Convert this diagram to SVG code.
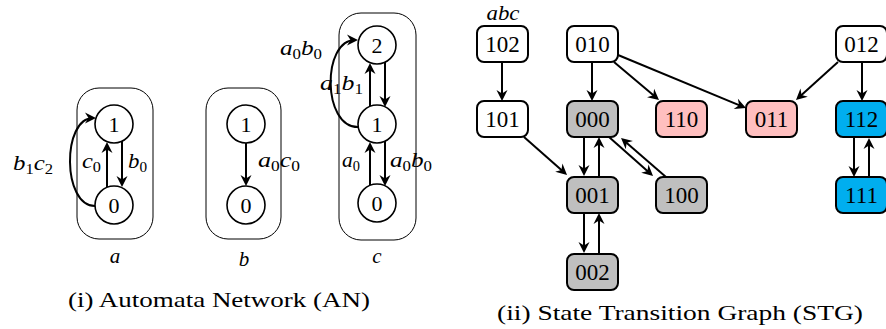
<svg xmlns="http://www.w3.org/2000/svg" width="886" height="329" viewBox="0 0 886 329" font-family="'Liberation Serif', 'DejaVu Serif', 'Noto Serif', 'Times New Roman', serif">
<defs>
<marker id="ah" markerUnits="userSpaceOnUse" viewBox="-12 -7 14 14" markerWidth="14" markerHeight="14" refX="-3" refY="0" orient="auto">
<path d="M0,0 L-11,-5.5 L-7.5,0 L-11,5.5 Z" fill="#000"/>
</marker>
</defs>
<style>
text{fill:#000}
.st rect{stroke:#000;stroke-width:2}
.st text{font-size:23px;text-anchor:middle}
.w{fill:#fff}.g{fill:#bfbfbf}.p{fill:#ffbfbf}.c{fill:#00aeef}
.frame{fill:none;stroke:#000;stroke-width:1}
.an circle{fill:#fff;stroke:#000;stroke-width:1.6}
.an text{font-size:22px;text-anchor:middle}
.e path{fill:none;stroke:#000;stroke-width:2;marker-end:url(#ah)}
.lb{font-size:21px;font-style:italic}
.lb tspan.s{font-size:14px;font-style:normal}
.cap{font-size:22px}
.nm{font-size:21px;font-style:italic;text-anchor:middle}
</style>

<g id="auto-a">
<rect class="frame" x="77" y="88" width="76" height="151" rx="22"/>
<text class="nm" x="115" y="263">a</text>
</g>
<g id="auto-b">
<rect class="frame" x="206" y="88" width="75" height="151" rx="22"/>
<text class="nm" x="244" y="266">b</text>
</g>
<g id="auto-c">
<rect class="frame" x="339" y="13" width="77" height="227" rx="22"/>
<text class="nm" x="377" y="263">c</text>
</g>

<g id="a1" class="an"><circle cx="114" cy="124" r="19"/><text x="114" y="131.5">1</text></g>
<g id="a0" class="an"><circle cx="114" cy="205" r="19"/><text x="114" y="212.5">0</text></g>
<g id="b1" class="an"><circle cx="246" cy="124" r="19"/><text x="246" y="131.5">1</text></g>
<g id="b0" class="an"><circle cx="246" cy="205" r="19"/><text x="246" y="212.5">0</text></g>
<g id="c2" class="an"><circle cx="377" cy="45" r="19"/><text x="377" y="52.5">2</text></g>
<g id="c1" class="an"><circle cx="377" cy="124" r="19"/><text x="377" y="131.5">1</text></g>
<g id="c0" class="an"><circle cx="377" cy="203" r="19"/><text x="377" y="210.5">0</text></g>

<g id="n102" class="st"><rect class="w" x="477" y="26" width="51" height="36" rx="7"/><text x="502.5" y="52">102</text></g>
<g id="n010" class="st"><rect class="w" x="567" y="26" width="51" height="36" rx="7"/><text x="592.5" y="52">010</text></g>
<g id="n012" class="st"><rect class="w" x="836" y="26" width="51" height="36" rx="7"/><text x="861.5" y="52">012</text></g>
<g id="n101" class="st"><rect class="w" x="477" y="101" width="51" height="36" rx="7"/><text x="502.5" y="127">101</text></g>
<g id="n000" class="st"><rect class="g" x="567" y="101" width="51" height="36" rx="7"/><text x="592.5" y="127">000</text></g>
<g id="n110" class="st"><rect class="p" x="656" y="101" width="51" height="36" rx="7"/><text x="681.5" y="127">110</text></g>
<g id="n011" class="st"><rect class="p" x="746" y="101" width="51" height="36" rx="7"/><text x="771.5" y="127">011</text></g>
<g id="n112" class="st"><rect class="c" x="836" y="101" width="51" height="36" rx="7"/><text x="861.5" y="127">112</text></g>
<g id="n001" class="st"><rect class="g" x="567" y="177" width="51" height="36" rx="7"/><text x="592.5" y="203">001</text></g>
<g id="n100" class="st"><rect class="g" x="656" y="177" width="51" height="36" rx="7"/><text x="681.5" y="203">100</text></g>
<g id="n111" class="st"><rect class="c" x="836" y="177" width="51" height="36" rx="7"/><text x="861.5" y="203">111</text></g>
<g id="n002" class="st"><rect class="g" x="567" y="254" width="51" height="36" rx="7"/><text x="592.5" y="280">002</text></g>

<g id="connectors" class="e">
<path d="M107,187 L107,145"/>
<path d="M122,141 L122,184"/>
<path d="M95,206 C62,206 62,118 93,118"/>
<path d="M246,143 L246,183"/>
<path d="M385,62 L385,104"/>
<path d="M370,106 L370,66"/>
<path d="M385,141 L385,183"/>
<path d="M370,185 L370,145"/>
<path d="M358,127 C322,127 322,40 355,40"/>
<path d="M502,62 L502,98"/>
<path d="M592,62 L592,98"/>
<path d="M614,62 L656.7,98.1"/>
<path d="M618,55 L743.2,106.9"/>
<path d="M838,62 L798.2,98"/>
<path d="M862,62 L862,98"/>
<path d="M854,137 L854,174"/>
<path d="M869,177 L869,141"/>
<path d="M524,137 L564.8,173"/>
<path d="M584,137 L584,173"/>
<path d="M599,177 L599,140"/>
<path d="M584,213 L584,250"/>
<path d="M599,254 L599,216"/>
<path d="M609,137 L650.8,174"/>
<path d="M666,177 L623.3,139.9"/>
</g>

<text class="lb" x="13" y="170" textLength="40" lengthAdjust="spacingAndGlyphs">b<tspan class="s" dy="4">1</tspan><tspan dy="-4">c</tspan><tspan class="s" dy="4">2</tspan></text>
<text class="lb" x="82" y="168" textLength="19" lengthAdjust="spacingAndGlyphs">c<tspan class="s" dy="4">0</tspan></text>
<text class="lb" x="128" y="168" textLength="19" lengthAdjust="spacingAndGlyphs">b<tspan class="s" dy="4">0</tspan></text>
<text class="lb" x="258" y="167" textLength="42" lengthAdjust="spacingAndGlyphs">a<tspan class="s" dy="4">0</tspan><tspan dy="-4">c</tspan><tspan class="s" dy="4">0</tspan></text>
<text class="lb" x="280" y="55" textLength="42" lengthAdjust="spacingAndGlyphs">a<tspan class="s" dy="4">0</tspan><tspan dy="-4">b</tspan><tspan class="s" dy="4">0</tspan></text>
<text class="lb" x="320" y="90" textLength="43" lengthAdjust="spacingAndGlyphs">a<tspan class="s" dy="4">1</tspan><tspan dy="-4">b</tspan><tspan class="s" dy="4">1</tspan></text>
<text class="lb" x="342" y="167" textLength="18" lengthAdjust="spacingAndGlyphs">a<tspan class="s" dy="4">0</tspan></text>
<text class="lb" x="390" y="167" textLength="42" lengthAdjust="spacingAndGlyphs">a<tspan class="s" dy="4">0</tspan><tspan dy="-4">b</tspan><tspan class="s" dy="4">0</tspan></text>
<text class="nm" x="503" y="20" textLength="33" lengthAdjust="spacingAndGlyphs">abc</text>

<text class="cap" x="68" y="307" textLength="302" lengthAdjust="spacingAndGlyphs">(i) Automata Network (AN)</text>
<text class="cap" x="497" y="320" textLength="366" lengthAdjust="spacingAndGlyphs">(ii) State Transition Graph (STG)</text>
</svg>
